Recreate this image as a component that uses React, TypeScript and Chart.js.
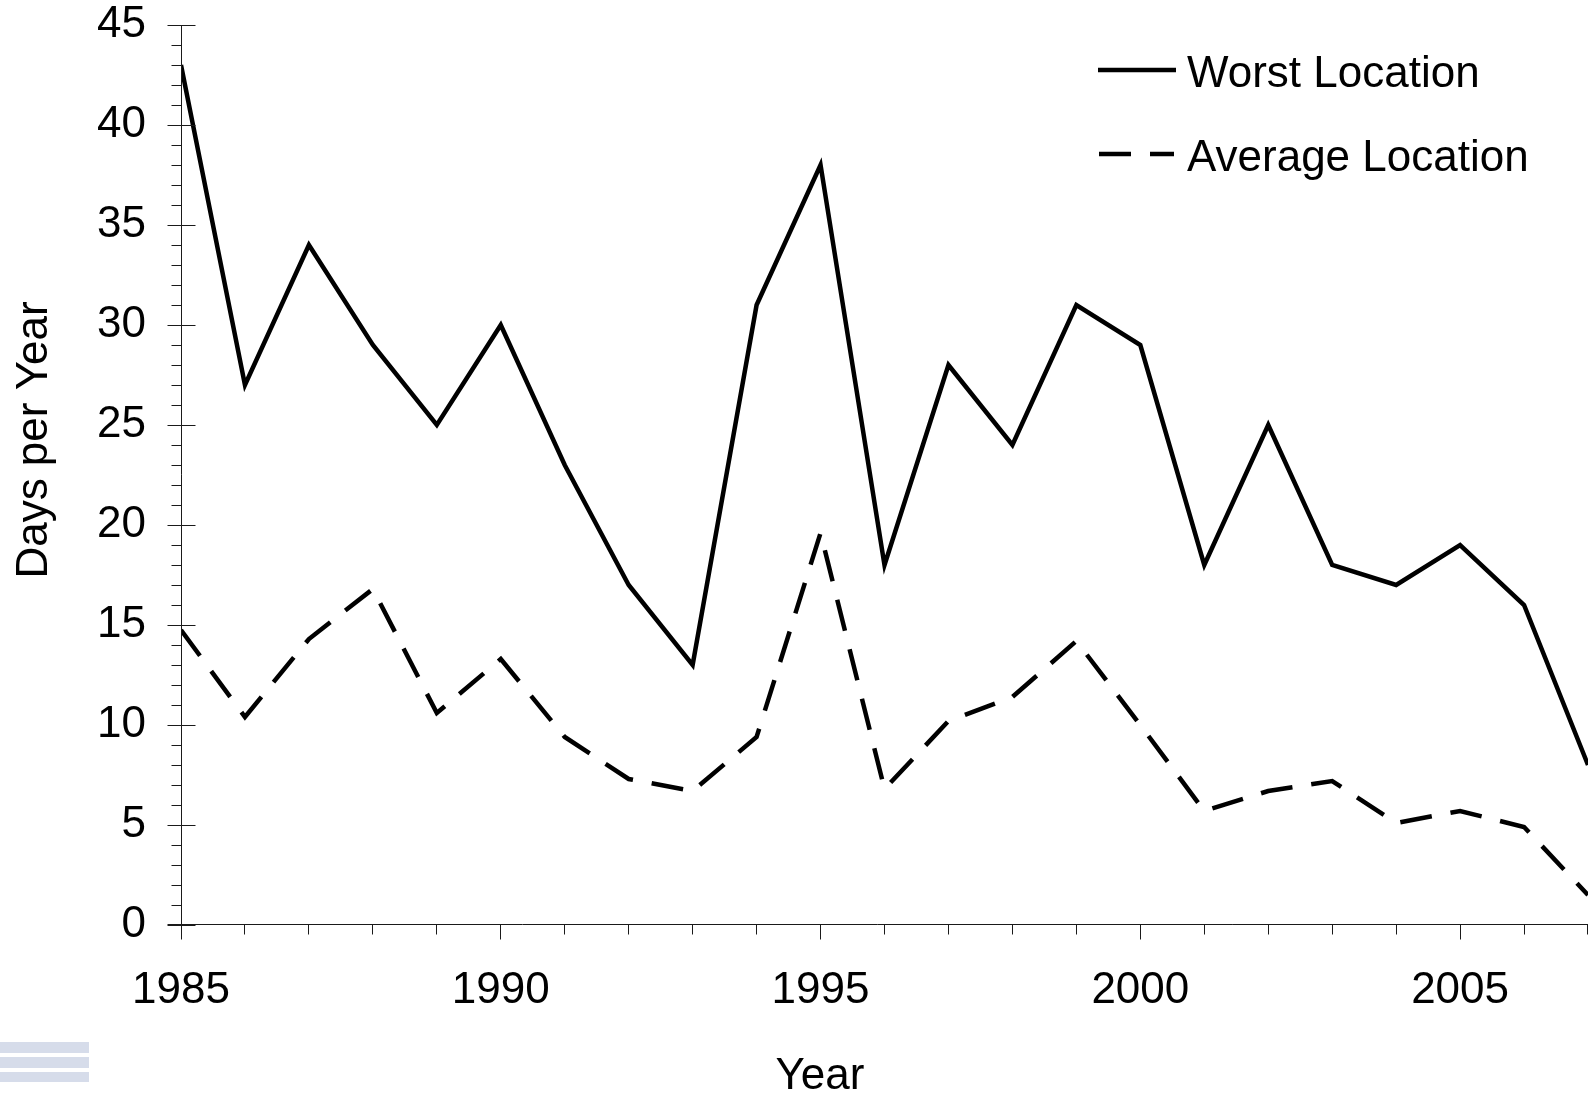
import React, { useEffect, useRef } from "react";
import { Chart, registerables } from "chart.js";

Chart.register(...registerables);

// ---- data ----
const years = [
  1985, 1986, 1987, 1988, 1989, 1990, 1991, 1992, 1993, 1994, 1995, 1996,
  1997, 1998, 1999, 2000, 2001, 2002, 2003, 2004, 2005, 2006, 2007,
];
const worstLocation = [
  43, 27, 34, 29, 25, 30, 23, 17, 13, 31, 38, 18, 28, 24, 31, 29, 18, 25, 18,
  17, 19, 16, 8,
];
const averageLocation = [
  14.75, 10.4, 14.3, 16.8, 10.6, 13.3, 9.4, 7.3, 6.7, 9.4, 19.6, 6.8, 10.2,
  11.4, 14.2, 10.0, 5.7, 6.7, 7.2, 5.1, 5.7, 4.9, 1.5,
];
const seriesNames = ["Worst Location", "Average Location"];
const xAxisTitle = "Year";
const yAxisTitle = "Days per Year";
const yTickValues = [0, 5, 10, 15, 20, 25, 30, 35, 40, 45];
const xLabelYears = [1985, 1990, 1995, 2000, 2005];

const FONT = '"Liberation Sans", Arial, Helvetica, sans-serif';
const FONT_SIZE = 44;
const DASH = [32, 19];

const decorPlugin = {
  id: "decor",
  afterDraw(chart: any) {
    const ctx = chart.ctx as CanvasRenderingContext2D;
    const xs = chart.scales.x;
    const ys = chart.scales.y;
    const area = chart.chartArea;
    const ax = Math.floor(xs.getPixelForValue(years[0])) + 0.5;
    const ay = Math.floor(ys.getPixelForValue(0)) - 0.5;
    const yTop = ys.getPixelForValue(yTickValues[yTickValues.length - 1]);

    ctx.save();
    ctx.strokeStyle = "#1a1a1a";
    ctx.lineWidth = 1;
    ctx.setLineDash([]);

    // axis lines
    ctx.beginPath();
    ctx.moveTo(ax, Math.round(yTop));
    ctx.lineTo(ax, ay);
    ctx.moveTo(ax - 14, ay);
    ctx.lineTo(Math.round(area.right), ay);
    ctx.stroke();

    // y ticks (major every 5, minor every 1)
    ctx.beginPath();
    const yMaxV = yTickValues[yTickValues.length - 1];
    for (let v = 0; v <= yMaxV; v++) {
      const py = Math.round(ys.getPixelForValue(v)) + 0.5;
      if (yTickValues.includes(v)) {
        ctx.moveTo(ax - 14, py);
        ctx.lineTo(ax + 14, py);
      } else {
        ctx.moveTo(ax - 10, py);
        ctx.lineTo(ax, py);
      }
    }
    // x ticks
    for (const yr of years) {
      const px = Math.min(Math.floor(xs.getPixelForValue(yr)) + 0.5, area.right - 0.5);
      const major = xLabelYears.includes(yr);
      ctx.moveTo(px, ay);
      ctx.lineTo(px, ay + (major ? 15 : 10));
    }
    ctx.stroke();

    // legend
    ctx.strokeStyle = "#000";
    ctx.lineWidth = 4.5;
    ctx.lineCap = "butt";
    ctx.beginPath();
    ctx.moveTo(1098, 70);
    ctx.lineTo(1176, 70);
    ctx.stroke();
    ctx.setLineDash(DASH);
    ctx.beginPath();
    ctx.moveTo(1099, 154);
    ctx.lineTo(1174, 154);
    ctx.stroke();
    ctx.setLineDash([]);

    ctx.fillStyle = "#000";
    ctx.font = `${FONT_SIZE}px ${FONT}`;
    ctx.textAlign = "left";
    ctx.textBaseline = "alphabetic";
    ctx.fillText(seriesNames[0], 1187, 87);
    ctx.fillText(seriesNames[1], 1187, 171);

    // axis titles
    ctx.textAlign = "center";
    ctx.fillText(xAxisTitle, 820, 1089);
    ctx.save();
    ctx.translate(47, 440);
    ctx.rotate(-Math.PI / 2);
    ctx.fillText(yAxisTitle, 0, 0);
    ctx.restore();

    ctx.restore();
  },
};

function ChartCanvas() {
  const ref = useRef<HTMLCanvasElement | null>(null);
  useEffect(() => {
    if (!ref.current) return;
    const chart = new Chart(ref.current, {
      type: "line",
      data: {
        datasets: [
          {
            label: seriesNames[0],
            data: years.map((y, i) => ({ x: y, y: worstLocation[i] })),
            borderColor: "#000",
            borderWidth: 4.5,
            pointRadius: 0,
            fill: false,
            tension: 0,
          },
          {
            label: seriesNames[1],
            data: years.map((y, i) => ({ x: y, y: averageLocation[i] })),
            borderColor: "#000",
            borderWidth: 4.5,
            borderDash: DASH,
            pointRadius: 0,
            fill: false,
            tension: 0,
          },
        ],
      },
      options: {
        animation: false,
        responsive: false,
        events: [],
        layout: { padding: { top: 25, right: 3, left: 0, bottom: 0 } },
        plugins: {
          legend: { display: false },
          tooltip: { enabled: false },
        },
        scales: {
          x: {
            type: "linear",
            min: years[0],
            max: years[years.length - 1],
            grid: {
              display: true,
              drawOnChartArea: false,
              drawTicks: true,
              tickLength: 44,
              color: "rgba(0,0,0,0)",
            },
            border: { display: false },
            afterFit: (s: any) => {
              s.height = 169;
            },
            afterBuildTicks: (s: any) => {
              s.ticks = years.map((v) => ({ value: v }));
            },
            ticks: {
              autoSkip: false,
              maxRotation: 0,
              minRotation: 0,
              padding: 0,
              color: "#000",
              font: { family: FONT, size: FONT_SIZE, lineHeight: 1 },
              callback: (v: any) =>
                xLabelYears.includes(Number(v)) ? String(v) : "",
            },
          },
          y: {
            type: "linear",
            min: yTickValues[0],
            max: yTickValues[yTickValues.length - 1],
            grid: {
              display: true,
              drawOnChartArea: false,
              drawTicks: true,
              tickLength: 35,
              color: "rgba(0,0,0,0)",
            },
            border: { display: false },
            afterFit: (s: any) => {
              s.width = 181;
            },
            afterBuildTicks: (s: any) => {
              s.ticks = yTickValues.map((v) => ({ value: v }));
            },
            ticks: {
              padding: 0,
              color: "#000",
              font: { family: FONT, size: FONT_SIZE, lineHeight: 1 },
              callback: (v: any) => String(v),
            },
          },
        },
      },
      plugins: [decorPlugin],
    } as any);
    return () => chart.destroy();
  }, []);
  return <canvas ref={ref} width={1591} height={1094} style={{ display: "block" }} />;
}

export default function App() {
  const bar = (top: number, h: number) => (
    <div
      style={{
        position: "absolute",
        left: 0,
        top,
        width: 89,
        height: h,
        background: "#d6dcea",
      }}
    />
  );
  return (
    <div
      style={{
        position: "absolute",
        left: 0,
        top: 0,
        width: 1591,
        height: 1094,
        background: "#fff",
        overflow: "hidden",
      }}
    >
      <ChartCanvas />
      {bar(1042, 11)}
      {bar(1057, 11)}
      {bar(1072, 10)}
    </div>
  );
}
